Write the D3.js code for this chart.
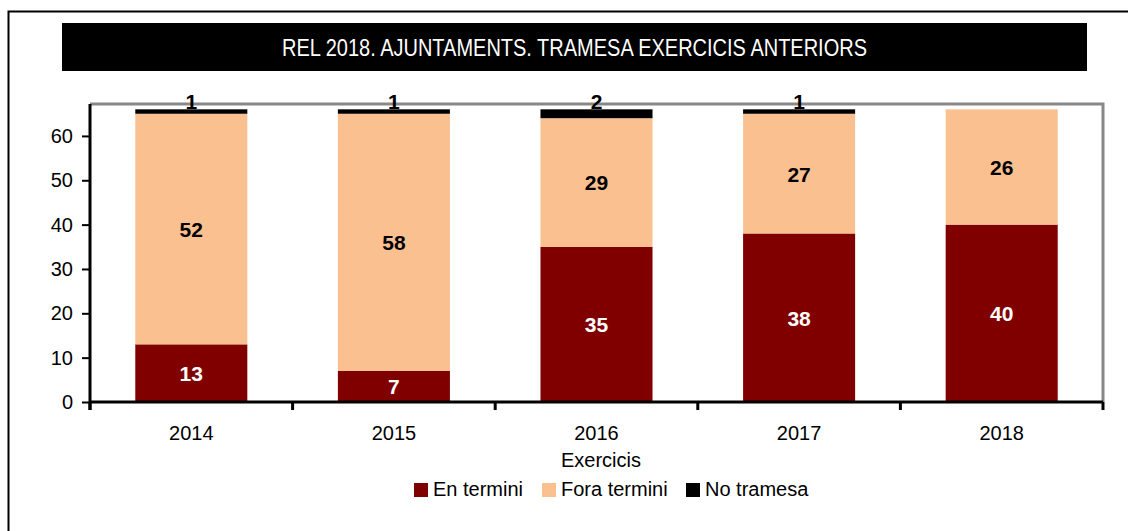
<!DOCTYPE html>
<html lang="ca">
<head>
  <meta charset="UTF-8" />
  <title>REL 2018. Ajuntaments. Tramesa exercicis anteriors</title>
  <script src="https://cdn.jsdelivr.net/npm/d3@7/dist/d3.min.js"></script>
  <style>
    html, body { margin: 0; padding: 0; background: #fff; }
    svg { display: block; }
    text { font-family: "Liberation Sans", Arial, sans-serif; }
  </style>
</head>
<body>
  <div id="chart"></div>
  <script>
    // dades
    const years = ["2014", "2015", "2016", "2017", "2018"];
    const enTermini = [13, 7, 35, 38, 40];
    const foraTermini = [52, 58, 29, 27, 26];
    const noTramesa = [1, 1, 2, 1, 0];
    const seriesNames = ["En termini", "Fora termini", "No tramesa"];
    const yTicks = [0, 10, 20, 30, 40, 50, 60];

    const colors = ["#800000", "#FAC090", "#000000"];
    const labelColors = ["#fff", "#000", "#000"];

    const width = 1128, height = 531;
    const plot = { left: 90, right: 1103, top: 104, bottom: 402 };

    const svg = d3.select("#chart").append("svg")
      .attr("width", width)
      .attr("height", height);

    // marc exterior
    svg.append("rect")
      .attr("x", 8.5).attr("y", 11.5)
      .attr("width", width + 10).attr("height", height + 10)
      .attr("fill", "none").attr("stroke", "#000").attr("stroke-width", 2);

    // títol
    svg.append("rect")
      .attr("x", 62).attr("y", 23)
      .attr("width", 1025).attr("height", 48)
      .attr("fill", "#000");
    svg.append("text")
      .attr("x", 282).attr("y", 56)
      .attr("fill", "#fff")
      .attr("font-size", 23)
      .attr("textLength", 585)
      .attr("lengthAdjust", "spacingAndGlyphs")
      .text("REL 2018. AJUNTAMENTS. TRAMESA EXERCICIS ANTERIORS");

    const x = d3.scaleBand()
      .domain(years)
      .range([plot.left, plot.right])
      .paddingInner(0.447)
      .paddingOuter(0.2235);

    const y = d3.scaleLinear()
      .domain([0, 67.2])
      .range([plot.bottom, plot.top]);

    // vora gris de l'àrea
    svg.append("path")
      .attr("d", `M${plot.left},${plot.top}H${plot.right}V${plot.bottom}`)
      .attr("fill", "none")
      .attr("stroke", "#888")
      .attr("stroke-width", 3);

    // apilat
    const rows = years.map((yr, i) => ({
      year: yr,
      "En termini": enTermini[i],
      "Fora termini": foraTermini[i],
      "No tramesa": noTramesa[i]
    }));
    const stacked = d3.stack().keys(seriesNames)(rows);

    const layers = svg.append("g").selectAll("g")
      .data(stacked)
      .join("g")
      .attr("fill", (d, i) => colors[i]);

    layers.selectAll("rect")
      .data(d => d.filter(s => s[1] - s[0] > 0))
      .join("rect")
      .attr("x", d => x(d.data.year))
      .attr("y", d => y(d[1]))
      .attr("width", x.bandwidth())
      .attr("height", d => y(d[0]) - y(d[1]));

    // etiquetes
    stacked.forEach((layer, li) => {
      svg.append("g").selectAll("text")
        .data(layer.filter(s => s[1] - s[0] > 0))
        .join("text")
        .attr("x", d => x(d.data.year) + x.bandwidth() / 2)
        .attr("y", d => li === 2 ? y(d[1]) : (y(d[0]) + y(d[1])) / 2 + 8)
        .attr("text-anchor", "middle")
        .attr("font-size", 21)
        .attr("font-weight", "bold")
        .attr("fill", labelColors[li])
        .text(d => d[1] - d[0]);
    });

    // eix Y
    const yAxis = svg.append("g")
      .attr("transform", `translate(${plot.left},0)`)
      .call(d3.axisLeft(y).tickValues(yTicks).tickSize(8).tickPadding(9));
    yAxis.select(".domain").remove();
    yAxis.append("line")
      .attr("x1", 0).attr("x2", 0)
      .attr("y1", plot.top).attr("y2", plot.bottom + 8)
      .attr("stroke", "#000").attr("stroke-width", 3);
    yAxis.selectAll(".tick line").attr("stroke", "#000").attr("stroke-width", 2);
    yAxis.selectAll(".tick text")
      .attr("fill", "#000")
      .attr("font-size", 20)
      .attr("font-family", null);

    // eix X
    const xAxis = svg.append("g")
      .attr("transform", `translate(0,${plot.bottom})`)
      .call(d3.axisBottom(x).tickSize(0).tickPadding(0));
    xAxis.select(".domain").remove();
    xAxis.append("line")
      .attr("x1", plot.left).attr("x2", plot.right)
      .attr("stroke", "#000").attr("stroke-width", 3);
    xAxis.selectAll(".tick text")
      .attr("fill", "#000")
      .attr("font-size", 20)
      .attr("font-family", null)
      .attr("dy", null)
      .attr("y", 38);
    // marques entre categories
    const boundaries = years.map(yr => x(yr) - x.step() * x.paddingInner() / 2)
      .concat([plot.right]);
    boundaries[0] = plot.left;
    xAxis.selectAll(".sep")
      .data(boundaries)
      .join("line")
      .attr("class", "sep")
      .attr("x1", d => d).attr("x2", d => d)
      .attr("y1", 0).attr("y2", 8)
      .attr("stroke", "#000").attr("stroke-width", 3);

    svg.append("text")
      .attr("x", 601).attr("y", 467)
      .attr("text-anchor", "middle")
      .attr("font-size", 20)
      .text("Exercicis");

    // llegenda
    const legendX = [414, 542, 686];
    const legend = svg.append("g").selectAll("g")
      .data(seriesNames)
      .join("g")
      .attr("transform", (d, i) => `translate(${legendX[i]},483)`);
    legend.append("rect")
      .attr("width", 14).attr("height", 14)
      .attr("fill", (d, i) => colors[i]);
    legend.append("text")
      .attr("x", 19).attr("y", 13)
      .attr("font-size", 20)
      .text(d => d);
  </script>
</body>
</html>
